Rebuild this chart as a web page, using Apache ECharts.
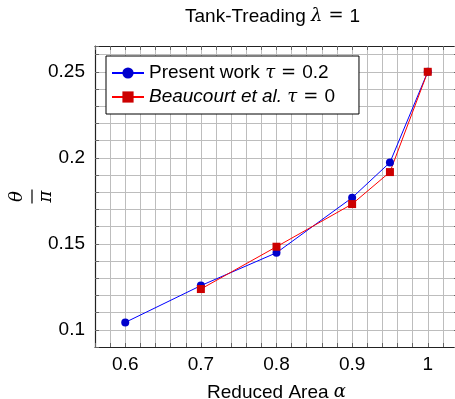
<!DOCTYPE html>
<html><head><meta charset="utf-8">
<script src="https://cdn.jsdelivr.net/npm/echarts@6/dist/echarts.min.js"></script>
<style>html,body{margin:0;padding:0;background:#fff}#c{width:455px;height:399px}</style>
</head><body><div id="c"></div>
<script>
const alphaPresent = [0.6, 0.7, 0.8, 0.9, 0.95, 1];
const thetaPresent = [0.1043, 0.1257, 0.1448, 0.1768, 0.1973, 0.25];
const alphaBeaucourt = [0.7, 0.8, 0.9, 0.95, 1];
const thetaBeaucourt = [0.1237, 0.1483, 0.1731, 0.1917, 0.25];
const xTickLabels = [0.6, 0.7, 0.8, 0.9, 1];
const yTickLabels = [0.1, 0.15, 0.2, 0.25];
const namePresent = 'Present work τ = 0.2';
const nameBeaucourt = 'Beaucourt et al. τ = 0';

const SANS = 'Liberation Sans';
const SERIF = 'DejaVu Serif';
const mathStyle = { fontFamily: SERIF, fontStyle: 'italic', fontSize: 18, color: '#000' };
const eqStyle = { fontFamily: SERIF, fontSize: 18, color: '#000', padding: [0, 6, 0, 6] };

function pick(list, v) {
  for (const t of list) if (Math.abs(t - v) < 1e-7) return String(t);
  return '';
}

const chart = echarts.init(document.getElementById('c'), null, { renderer: 'canvas' });
const axisCommon = {
  type: 'value',
  axisLine: { show: true, onZero: false, lineStyle: { color: '#222', width: 1.2 } },
  axisTick: { show: true, inside: true, length: 4, lineStyle: { color: '#666', width: 1 } },
};
chart.setOption({
  animation: false,
  backgroundColor: '#fff',
  title: {
    text: 'Tank-Treading {m|λ}{e|=}1',
    left: 185, top: 7, padding: 0,
    textStyle: { fontFamily: SANS, fontSize: 19, fontWeight: 'normal', color: '#000',
      rich: { m: mathStyle, e: eqStyle } }
  },
  grid: { left: 95, right: -3, top: 46, bottom: 52, containLabel: false, outerBoundsMode: 'none' },
  legend: {
    orient: 'vertical', left: 106, top: 56,
    backgroundColor: '#fff', borderColor: '#000', borderWidth: 1,
    padding: [6, 24, 6, 5], itemGap: 2, itemWidth: 32, itemHeight: 14,
    data: [namePresent, nameBeaucourt],
    formatter: function (n) {
      if (n === namePresent) return 'Present work {m|τ}{e|=}0.2';
      return '{i|Beaucourt et al.} {m|τ}{e|=}0';
    },
    textStyle: { fontFamily: SANS, fontSize: 19, color: '#000', lineHeight: 22,
      rich: { m: Object.assign({ lineHeight: 22 }, mathStyle),
              e: Object.assign({ lineHeight: 22 }, eqStyle),
              i: { fontFamily: SANS, fontStyle: 'italic', fontSize: 19, color: '#000', lineHeight: 22 } } }
  },
  xAxis: [
    Object.assign({}, axisCommon, {
      min: 0.56, max: 1.04, interval: 0.02, position: 'bottom',
      name: 'Reduced Area {m|α}', nameLocation: 'middle', nameGap: 36, nameMoveOverlap: false,
      nameTextStyle: { fontFamily: SANS, fontSize: 19, color: '#000', rich: { m: mathStyle } },
      axisLabel: { show: true, margin: 8, fontFamily: SANS, fontSize: 19, color: '#000',
        formatter: v => pick(xTickLabels, v) },
      splitLine: { show: true, lineStyle: { color: '#bdbdbd', width: 1 } }
    }),
    Object.assign({}, axisCommon, {
      min: 0.56, max: 1.04, interval: 0.02, position: 'top',
      axisLabel: { show: false }, splitLine: { show: false }
    })
  ],
  yAxis: [
    Object.assign({}, axisCommon, {
      min: 0.09, max: 0.265, interval: 0.01, position: 'left',
      name: '{t|θ}\n{l|}\n{p|π}', nameLocation: 'middle', nameRotate: 90, nameGap: 38, nameMoveOverlap: false,
      nameTextStyle: { align: 'center', rich: {
        t: { fontFamily: SERIF, fontStyle: 'italic', fontSize: 18, color: '#000', lineHeight: 24, align: 'center' },
        l: { width: 14, height: 1.2, backgroundColor: '#000', lineHeight: 6, align: 'center' },
        p: { fontFamily: SERIF, fontStyle: 'italic', fontSize: 18, color: '#000', lineHeight: 22, align: 'center' }
      } },
      axisLabel: { show: true, margin: 10, fontFamily: SANS, fontSize: 19, color: '#000',
        formatter: v => pick(yTickLabels, v) },
      splitLine: { show: true, lineStyle: { color: '#bdbdbd', width: 1 } }
    }),
    Object.assign({}, axisCommon, {
      min: 0.09, max: 0.265, interval: 0.01, position: 'right',
      axisLabel: { show: false }, splitLine: { show: false }
    })
  ],
  series: [
    {
      name: namePresent, type: 'line',
      data: alphaPresent.map((a, i) => [a, thetaPresent[i]]),
      symbol: 'circle', symbolSize: 8,
      lineStyle: { color: '#0000ff', width: 1 },
      itemStyle: { color: '#0000cc' }
    },
    {
      name: nameBeaucourt, type: 'line',
      data: alphaBeaucourt.map((a, i) => [a, thetaBeaucourt[i]]),
      symbol: 'rect', symbolSize: 8,
      lineStyle: { color: '#ff0000', width: 1 },
      itemStyle: { color: '#cc0000' }
    }
  ]
});
</script></body></html>
